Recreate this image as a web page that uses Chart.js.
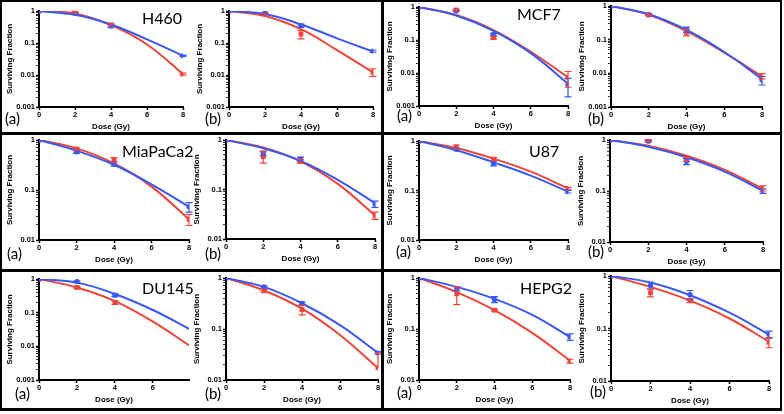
<!DOCTYPE html>
<html>
<head>
<meta charset="utf-8">
<script src="https://cdn.jsdelivr.net/npm/chart.js@4.4.1/dist/chart.umd.min.js"></script>
<style>
  body { margin: 0; background: #fff; }
  #fig { position: relative; width: 784px; height: 414px; overflow: hidden; background: #fff; }
  #fig canvas { position: absolute; }
  .rule { position: absolute; background: #000; }
  .name { position: absolute; font-family: Lato, 'Liberation Sans', sans-serif; font-size: 16px; line-height: 16px; color: #000; white-space: nowrap; }
  .tag { position: absolute; font-family: Lato, 'Liberation Sans', sans-serif; font-size: 15px; line-height: 15px; color: #000; white-space: nowrap; }
</style>
</head>
<body>
<div id="fig"></div>
<script>
const doseFit = [0, 2, 4, 6, 8];
const dosePts = [0, 2, 4, 8];
const dosePtsShort = [0, 2, 4];

// H460
const h460aRedFit = [1, 0.84, 0.36, 0.09, 0.0107];
const h460aBlueFit = [1, 0.76, 0.38, 0.13, 0.040];
const h460aRed = [1, 0.92, 0.37, 0.0107];
const h460aRedSd = [0, 0.06, 0.03, 0.0008];
const h460aBlue = [1, 0.85, 0.34, 0.040];
const h460aBlueSd = [0, 0.04, 0.04, 0.002];

const h460bRedFit = [1, 0.70, 0.27, 0.060, 0.012];
const h460bBlueFit = [1, 0.80, 0.38, 0.14, 0.054];
const h460bRed = [1, 0.80, 0.19, 0.0124];
const h460bRedSd = [0, 0.05, 0.055, 0.0033];
const h460bBlue = [1, 0.85, 0.35, 0.056];
const h460bBlueSd = [0, 0.06, 0.04, 0.0045];

// MCF7
const mcf7aRedFit = [1, 0.57, 0.20, 0.044, 0.0074];
const mcf7aBlueFit = [1, 0.55, 0.19, 0.040, 0.0047];
const mcf7aRed = [1, 0.81, 0.118, 0.0074];
const mcf7aRedSd = [0, 0.05, 0.012, 0.0037];
const mcf7aBlue = [1, 0.76, 0.148, 0.0044];
const mcf7aBlueSd = [0, 0.03, 0.01, 0.0025];

const mcf7bRedFit = [1, 0.55, 0.18, 0.041, 0.0082];
const mcf7bBlueFit = [1, 0.57, 0.195, 0.043, 0.0068];
const mcf7bRed = [1, 0.54, 0.165, 0.0083];
const mcf7bRedSd = [0, 0.03, 0.035, 0.0015];
const mcf7bBlue = [1, 0.56, 0.20, 0.0063];
const mcf7bBlueSd = [0, 0.03, 0.035, 0.0018];

// MiaPaCa2
const miaaRedFit = [1, 0.68, 0.34, 0.117, 0.026];
const miaaBlueFit = [1, 0.61, 0.32, 0.13, 0.046];
const miaaRed = [1, 0.66, 0.40, 0.026];
const miaaRedSd = [0, 0.03, 0.045, 0.0065];
const miaaBlue = [1, 0.58, 0.33, 0.046];
const miaaBlueSd = [0, 0.04, 0.03, 0.01];

const miabRedFit = [1, 0.71, 0.37, 0.13, 0.030];
const miabBlueFit = [1, 0.68, 0.38, 0.157, 0.053];
const miabRed = [1, 0.46, 0.37, 0.030];
const miabRedSd = [0, 0.12, 0.03, 0.005];
const miabBlue = [1, 0.54, 0.41, 0.051];
const miabBlueSd = [0, 0.06, 0.04, 0.0075];

// U87
const u87aRedFit = [1, 0.72, 0.44, 0.24, 0.11];
const u87aBlueFit = [1, 0.65, 0.37, 0.20, 0.095];
const u87aRed = [1, 0.76, 0.43, 0.111];
const u87aRedSd = [0, 0.07, 0.03, 0.005];
const u87aBlue = [1, 0.68, 0.35, 0.095];
const u87aBlueSd = [0, 0.03, 0.035, 0.006];

const u87bRedFit = [1, 0.77, 0.49, 0.26, 0.11];
const u87bBlueFit = [1, 0.74, 0.46, 0.24, 0.10];
const u87bRed = [1, 0.97, 0.42, 0.113];
const u87bRedSd = [0, 0.05, 0.04, 0.013];
const u87bBlue = [1, 0.95, 0.38, 0.10];
const u87bBlueSd = [0, 0.03, 0.05, 0.01];

// DU145
const du145aRedFit = [1, 0.56, 0.22, 0.054, 0.0098];
const du145aBlueFit = [1, 0.78, 0.36, 0.12, 0.031];
const du145aRed = [1, 0.56, 0.20];
const du145aRedSd = [0, 0.03, 0.025];
const du145aBlue = [1, 0.83, 0.33];
const du145aBlueSd = [0, 0.05, 0.03];

const du145bRedFit = [1, 0.57, 0.25, 0.076, 0.017];
const du145bBlueFit = [1, 0.67, 0.32, 0.119, 0.034];
const du145bRed = [1, 0.56, 0.24, 0.0174];
const du145bRedSd = [0, 0.04, 0.05, 0.017];
const du145bBlue = [1, 0.67, 0.32, 0.034];
const du145bBlueSd = [0, 0.03, 0.02, 0.002];

// HEPG2
const hepg2aRedFit = [1, 0.53, 0.234, 0.084, 0.024];
const hepg2aBlueFit = [1, 0.67, 0.39, 0.19, 0.070];
const hepg2aRed = [1, 0.49, 0.234, 0.0235];
const hepg2aRedSd = [0, 0.19, 0.01, 0.002];
const hepg2aBlue = [1, 0.62, 0.38, 0.070];
const hepg2aBlueSd = [0, 0.06, 0.05, 0.01];

const hepg2bRedFit = [1, 0.62, 0.34, 0.155, 0.056];
const hepg2bBlueFit = [1, 0.75, 0.43, 0.20, 0.077];
const hepg2bRed = [1, 0.48, 0.34, 0.055];
const hepg2bRedSd = [0, 0.08, 0.03, 0.012];
const hepg2bBlue = [1, 0.66, 0.44, 0.077];
const hepg2bBlueSd = [0, 0.1, 0.09, 0.012];

const RED = '#EF4438';
const BLUE = '#3A58F4';
const FONT = "'Liberation Sans', Arial, sans-serif";

Chart.defaults.font.family = FONT;

const fig = document.getElementById('fig');

// panel boxes: x0/x1 = plot left/right, top/bot = plot top/bottom (pixels)
const panels = [
  { x0: 39, x1: 183, top: 11, bot: 107, yMin: 0.001, xMax: 8, dose: dosePts, redFit: h460aRedFit, blueFit: h460aBlueFit, red: h460aRed, redSd: h460aRedSd, blue: h460aBlue, blueSd: h460aBlueSd },
  { x0: 229, x1: 373, top: 11, bot: 107, yMin: 0.001, xMax: 8, dose: dosePts, redFit: h460bRedFit, blueFit: h460bBlueFit, red: h460bRed, redSd: h460bRedSd, blue: h460bBlue, blueSd: h460bBlueSd },
  { x0: 419, x1: 568, top: 7, bot: 106, yMin: 0.001, xMax: 8, dose: dosePts, redFit: mcf7aRedFit, blueFit: mcf7aBlueFit, red: mcf7aRed, redSd: mcf7aRedSd, blue: mcf7aBlue, blueSd: mcf7aBlueSd },
  { x0: 611, x1: 762, top: 6, bot: 107, yMin: 0.001, xMax: 8, dose: dosePts, redFit: mcf7bRedFit, blueFit: mcf7bBlueFit, red: mcf7bRed, redSd: mcf7bRedSd, blue: mcf7bBlue, blueSd: mcf7bBlueSd },
  { x0: 39, x1: 189, top: 140, bot: 240, yMin: 0.01, xMax: 8, dose: dosePts, redFit: miaaRedFit, blueFit: miaaBlueFit, red: miaaRed, redSd: miaaRedSd, blue: miaaBlue, blueSd: miaaBlueSd },
  { x0: 226, x1: 375, top: 140, bot: 239, yMin: 0.01, xMax: 8, dose: dosePts, redFit: miabRedFit, blueFit: miabBlueFit, red: miabRed, redSd: miabRedSd, blue: miabBlue, blueSd: miabBlueSd },
  { x0: 419, x1: 568, top: 141, bot: 240, yMin: 0.01, xMax: 8, dose: dosePts, redFit: u87aRedFit, blueFit: u87aBlueFit, red: u87aRed, redSd: u87aRedSd, blue: u87aBlue, blueSd: u87aBlueSd },
  { x0: 610, x1: 763, top: 140, bot: 242, yMin: 0.01, xMax: 8, dose: dosePts, redFit: u87bRedFit, blueFit: u87bBlueFit, red: u87bRed, redSd: u87bRedSd, blue: u87bBlue, blueSd: u87bBlueSd },
  { x0: 39, x1: 189, top: 279, bot: 380, yMin: 0.001, xMax: 7.9, dose: dosePtsShort, redFit: du145aRedFit, blueFit: du145aBlueFit, red: du145aRed, redSd: du145aRedSd, blue: du145aBlue, blueSd: du145aBlueSd },
  { x0: 226, x1: 378, top: 278, bot: 380, yMin: 0.01, xMax: 8, dose: dosePts, redFit: du145bRedFit, blueFit: du145bBlueFit, red: du145bRed, redSd: du145bRedSd, blue: du145bBlue, blueSd: du145bBlueSd },
  { x0: 419, x1: 570, top: 278, bot: 380, yMin: 0.01, xMax: 8, dose: dosePts, redFit: hepg2aRedFit, blueFit: hepg2aBlueFit, red: hepg2aRed, redSd: hepg2aRedSd, blue: hepg2aBlue, blueSd: hepg2aBlueSd },
  { x0: 611, x1: 769, top: 276, bot: 381, yMin: 0.01, xMax: 8, dose: dosePts, redFit: hepg2bRedFit, blueFit: hepg2bBlueFit, red: hepg2bRed, redSd: hepg2bRedSd, blue: hepg2bBlue, blueSd: hepg2bBlueSd }
];

// vertical error bars, placed through the chart's own scales
const errorBars = {
  id: 'errorBars',
  afterDatasetsDraw(chart) {
    const ctx = chart.ctx;
    const xs = chart.scales.x;
    const ys = chart.scales.y;
    chart.data.datasets.forEach((ds, i) => {
      if (!ds.sd) return;
      const meta = chart.getDatasetMeta(i);
      ctx.save();
      ctx.strokeStyle = ds.borderColor;
      ctx.lineWidth = 1.2;
      ds.data.forEach((pt, j) => {
        const sd = ds.sd[j];
        if (!sd) return;
        const x = xs.getPixelForValue(pt.x);
        const yHi = ys.getPixelForValue(pt.y + sd);
        const lo = pt.y - sd;
        const yLo = lo > ys.min ? ys.getPixelForValue(lo) : meta.data[j].y;
        ctx.beginPath();
        ctx.moveTo(x, yHi);
        ctx.lineTo(x, yLo);
        ctx.moveTo(x - 3.5, yHi);
        ctx.lineTo(x + 3.5, yHi);
        if (lo > ys.min) {
          ctx.moveTo(x - 3.5, yLo);
          ctx.lineTo(x + 3.5, yLo);
        }
        ctx.stroke();
      });
      ctx.restore();
    });
  }
};

function pairs(xs, ys) {
  return ys.map((y, i) => ({ x: xs[i], y: y }));
}

function isDecade(v) {
  const l = Math.log10(v);
  return Math.abs(l - Math.round(l)) < 1e-6;
}

function makePanel(p) {
  const padTop = 6, padRight = 6, yW = 38, xH = 25;
  const w = p.x1 - p.x0 + yW + padRight;
  const h = p.bot - p.top + padTop + xH;
  const canvas = document.createElement('canvas');
  canvas.width = w;
  canvas.height = h;
  canvas.style.left = (p.x0 - yW) + 'px';
  canvas.style.top = (p.top - padTop) + 'px';
  canvas.style.width = w + 'px';
  canvas.style.height = h + 'px';
  fig.appendChild(canvas);

  new Chart(canvas, {
    type: 'line',
    data: {
      datasets: [
        { data: pairs(p.dose, p.blue), sd: p.blueSd, showLine: false, pointStyle: 'circle', pointRadius: 2.6, backgroundColor: BLUE, borderColor: BLUE, pointBorderWidth: 0 },
        { data: pairs(p.dose, p.red), sd: p.redSd, showLine: false, pointStyle: 'rect', pointRadius: 3.4, backgroundColor: RED, borderColor: RED, pointBorderWidth: 0 },
        { data: pairs(doseFit, p.blueFit), borderColor: BLUE, borderWidth: 2, pointRadius: 0, tension: 0.4, fill: false },
        { data: pairs(doseFit, p.redFit), borderColor: RED, borderWidth: 2, pointRadius: 0, tension: 0.4, fill: false }
      ]
    },
    options: {
      responsive: false,
      animation: false,
      devicePixelRatio: 1,
      layout: { padding: { top: padTop, right: padRight, left: 0, bottom: 0 } },
      plugins: { legend: { display: false }, tooltip: { enabled: false } },
      scales: {
        x: {
          type: 'linear',
          min: 0,
          max: p.xMax,
          afterFit: s => { s.height = xH; },
          afterBuildTicks: s => { s.ticks = [0, 2, 4, 6, 8].filter(v => v <= s.max).map(v => ({ value: v })); },
          ticks: { font: { size: 7.5, weight: 'bold' }, color: '#000', padding: 0, maxRotation: 0, autoSkip: false },
          grid: { drawOnChartArea: false, color: '#000', tickLength: 3, tickWidth: 1.5 },
          border: { color: '#000', width: 2 },
          title: { display: true, text: 'Dose (Gy)', font: { size: 8, weight: 'bold' }, color: '#000', padding: { top: 0, bottom: 0 } }
        },
        y: {
          type: 'logarithmic',
          min: p.yMin,
          max: 1,
          afterFit: s => { s.width = yW; },
          afterBuildTicks: s => {
            s.ticks = s.ticks.filter(t => {
              const m = t.value / Math.pow(10, Math.floor(Math.log10(t.value) + 1e-9));
              return Math.abs(m - Math.round(m)) < 1e-6;
            });
          },
          ticks: {
            font: { size: 7.5, weight: 'bold' },
            color: '#000',
            padding: 1,
            autoSkip: false,
            callback: v => isDecade(v) ? String(Number(v.toPrecision(1))) : ''
          },
          grid: {
            drawOnChartArea: false,
            color: '#000',
            tickLength: 3,
            tickWidth: c => isDecade(c.tick.value) ? 1.5 : 0.8
          },
          border: { color: '#000', width: 2 },
          title: { display: true, text: 'Surviving Fraction', font: { size: 8, weight: 'bold' }, color: '#000', padding: { top: 4, bottom: 0 } }
        }
      }
    },
    plugins: [errorBars]
  });
}

panels.forEach(makePanel);

// cell-line names and sub-panel letters
const names = [
  ['H460', 142, 10], ['MCF7', 517, 6], ['MiaPaCa2', 122, 143],
  ['U87', 529, 143], ['DU145', 142, 280], ['HEPG2', 520, 280]
];
names.forEach(([t, x, y]) => {
  const d = document.createElement('div');
  d.className = 'name';
  d.textContent = t;
  d.style.left = x + 'px';
  d.style.top = y + 'px';
  fig.appendChild(d);
});

const tags = [
  ['(a)', 5, 111], ['(b)', 205, 111], ['(a)', 397, 108], ['(b)', 588, 111],
  ['(a)', 7, 246], ['(b)', 205, 246], ['(a)', 396, 244], ['(b)', 588, 244],
  ['(a)', 15, 386], ['(b)', 205, 386], ['(a)', 397, 385], ['(b)', 590, 384]
];
tags.forEach(([t, x, y]) => {
  const d = document.createElement('div');
  d.className = 'tag';
  d.textContent = t;
  d.style.left = x + 'px';
  d.style.top = y + 'px';
  fig.appendChild(d);
});

// frame lines
const rules = [
  [0, 0, 782, 2], [0, 0, 2, 411], [780, 0, 2, 411], [0, 408, 782, 3],
  [381, 0, 3, 411], [0, 132, 782, 3], [0, 269, 782, 3]
];
rules.forEach(([x, y, w, h]) => {
  const d = document.createElement('div');
  d.className = 'rule';
  d.style.left = x + 'px';
  d.style.top = y + 'px';
  d.style.width = w + 'px';
  d.style.height = h + 'px';
  fig.appendChild(d);
});
</script>
</body>
</html>
